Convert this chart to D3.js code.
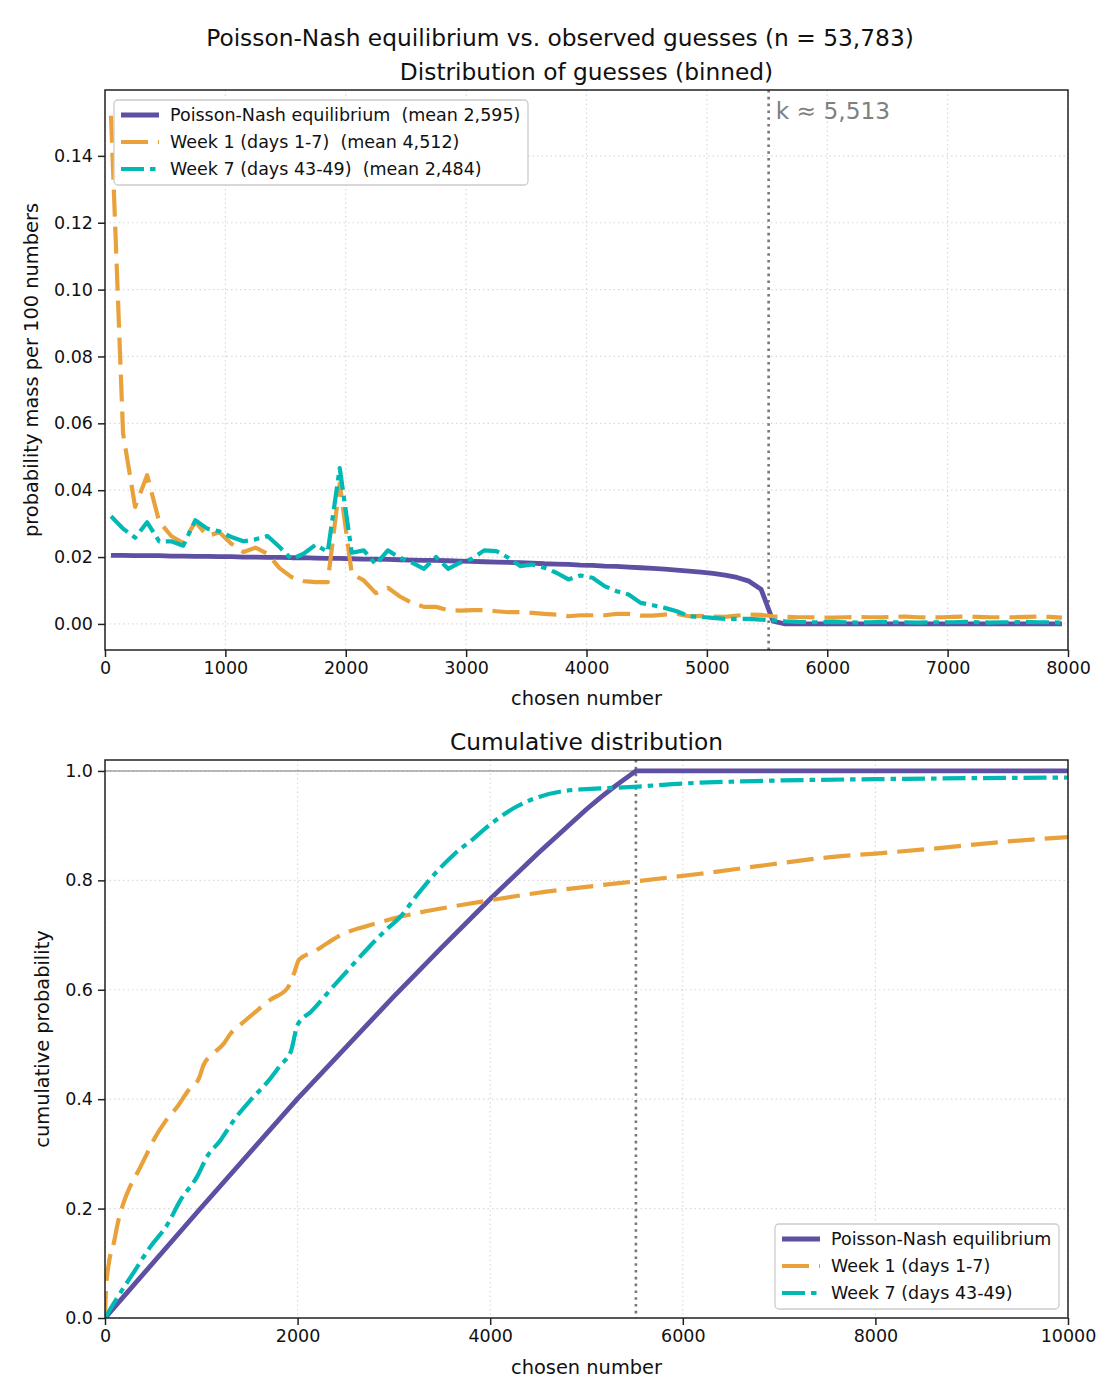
<!DOCTYPE html>
<html><head><meta charset="utf-8">
<script src="https://cdn.jsdelivr.net/npm/d3@7"></script>
<style>body{margin:0;background:#fff}svg{font-family:"DejaVu Sans",sans-serif}text{white-space:pre}</style>
</head><body>
<svg id="chart" width="1120" height="1400"></svg>
<script>
// ---------- DATA ----------
const binStart = 50, binWidth = 100, binCount = 80;
const seriesNames = ["Poisson-Nash equilibrium", "Week 1 (days 1-7)", "Week 7 (days 43-49)"];
const seriesMeans = ["2,595", "4,512", "2,484"];
const kValue = 5513;

const equilibriumBinned = [
0.0205,0.0205,0.0204,0.0204,0.0204,0.0203,0.0203,0.0202,0.0202,0.0201,
0.0201,0.0200,0.0200,0.0199,0.0199,0.0198,0.0198,0.0197,0.0196,0.0196,
0.0195,0.0194,0.0194,0.0193,0.0192,0.0191,0.0190,0.0190,0.0189,0.0188,
0.0187,0.0186,0.0185,0.0184,0.0183,0.0182,0.0180,0.0179,0.0178,0.0176,
0.0175,0.0173,0.0172,0.0170,0.0168,0.0166,0.0164,0.0161,0.0158,0.0155,
0.0151,0.0146,0.0139,0.0128,0.0104,0.0008,0,0,0,0,
0,0,0,0,0,0,0,0,0,0,
0,0,0,0,0,0,0,0,0,0];
const week1Binned = [
0.152,0.057,0.035,0.0445,0.0306,0.0263,0.0242,0.0306,0.0263,0.0274,
0.0240,0.0215,0.0228,0.0210,0.0167,0.0140,0.0128,0.0125,0.0125,0.0420,
0.0150,0.0130,0.0092,0.0108,0.0082,0.0063,0.0051,0.0051,0.0041,0.0040,
0.0041,0.0041,0.0038,0.0035,0.0035,0.0033,0.0030,0.0028,0.0023,0.0026,
0.0026,0.0026,0.0030,0.0030,0.0025,0.0025,0.0028,0.0030,0.0023,0.0024,
0.0022,0.0021,0.0025,0.0028,0.0027,0.0023,0.0021,0.0020,0.0020,0.0019,
0.0019,0.0020,0.0021,0.0020,0.0020,0.0021,0.0022,0.0020,0.0019,0.0020,
0.0021,0.0022,0.0021,0.0020,0.0020,0.0020,0.0021,0.0022,0.0021,0.0019];
const week7Binned = [
0.0322,0.0285,0.0258,0.0304,0.0247,0.0247,0.0234,0.0310,0.0285,0.0277,
0.0260,0.0247,0.0253,0.0263,0.0230,0.0194,0.0210,0.0237,0.0215,0.0466,
0.0213,0.0220,0.0178,0.0220,0.0198,0.0183,0.0165,0.0200,0.0165,0.0183,
0.0195,0.0220,0.0218,0.0198,0.0173,0.0178,0.0168,0.0153,0.0133,0.0145,
0.0138,0.0113,0.0098,0.0088,0.0063,0.0056,0.0048,0.0038,0.0023,0.0021,
0.0018,0.0015,0.0015,0.0015,0.0013,0.0011,0.0008,0.0006,0.0005,0.0005,
0.0006,0.0005,0.0004,0.0005,0.0006,0.0005,0.0005,0.0004,0.0005,0.0005,
0.0005,0.0006,0.0005,0.0004,0.0005,0.0005,0.0006,0.0005,0.0005,0.0004];

// cumulative curves (x, cumulative probability)
const cdfEqX = [0,1000,2000,3000,3500,4000,4500,4800,5000,5150,5250,5350,5450,5513,10000];
const cdfEqY = [0,0.202,0.401,0.588,0.678,0.766,0.850,0.898,0.930,0.952,0.966,0.979,0.992,1.0,1.0];
const cdfW1X = [0,10,40,90,140,190,260,350,435,520,625,750,870,975,1025,1130,1235,1305,1445,1585,1720,1895,1965,2015,2175,2315,2450,2730,3010,3290,3635,4015,4450,5140,5500,6180,6870,7560,8000,8600,9300,10000];
const cdfW1Y = [0,0.05,0.10,0.136,0.179,0.209,0.24,0.27,0.30,0.33,0.359,0.386,0.417,0.438,0.463,0.484,0.502,0.52,0.542,0.563,0.582,0.603,0.631,0.655,0.67,0.686,0.70,0.717,0.731,0.742,0.753,0.764,0.776,0.791,0.798,0.812,0.828,0.843,0.849,0.858,0.870,0.879];
const cdfW7X = [0,120,300,470,645,785,955,1060,1200,1340,1515,1690,1825,1930,2000,2140,2385,2590,2730,2940,3065,3235,3410,3615,3825,4035,4275,4515,4795,5140,5490,6000,6870,8000,10000];
const cdfW7Y = [0,0.035,0.084,0.13,0.17,0.216,0.258,0.295,0.325,0.362,0.399,0.432,0.463,0.487,0.536,0.56,0.609,0.649,0.676,0.713,0.733,0.772,0.809,0.846,0.876,0.907,0.935,0.953,0.964,0.968,0.971,0.977,0.982,0.985,0.988];

const topXTicks = [0,1000,2000,3000,4000,5000,6000,7000,8000];
const topYTicks = [0,0.02,0.04,0.06,0.08,0.10,0.12,0.14];
const botXTicks = [0,2000,4000,6000,8000,10000];
const botYTicks = [0,0.2,0.4,0.6,0.8,1.0];

// ---------- STYLE ----------
const colors = ["#5e4fa2", "#e9a23b", "#00b8b4"];
const widths = [4.8, 4.2, 4.2];
const dashes = [null, "27,10", "23,6,5.5,6"];
const cdfCurves = [d3.curveLinear, d3.curveMonotoneX, d3.curveMonotoneX];

const svg = d3.select("#chart");
const bins = d3.range(binCount).map(i => binStart + i * binWidth);

function panel(box, xDom, yDom, xTicks, yTicks, yFmt, title) {
  const x = d3.scaleLinear().domain(xDom).range([box.l, box.r]);
  const y = d3.scaleLinear().domain(yDom).range([box.b, box.t]);
  const g = svg.append("g");
  const id = "clip" + Math.round(box.t);
  svg.append("clipPath").attr("id", id).append("rect")
    .attr("x", box.l).attr("y", box.t).attr("width", box.r - box.l).attr("height", box.b - box.t);
  g.append("g").selectAll("line").data(xTicks).join("line")
    .attr("x1", d => x(d)).attr("x2", d => x(d)).attr("y1", box.t).attr("y2", box.b)
    .attr("stroke", "#d9d9d9").attr("stroke-width", 1.2).attr("stroke-dasharray", "1.5,3");
  g.append("g").selectAll("line").data(yTicks).join("line")
    .attr("y1", d => y(d)).attr("y2", d => y(d)).attr("x1", box.l).attr("x2", box.r)
    .attr("stroke", "#d9d9d9").attr("stroke-width", 1.2).attr("stroke-dasharray", "1.5,3");
  const ax = g.append("g").attr("transform", `translate(0,${box.b})`)
    .call(d3.axisBottom(x).tickValues(xTicks).tickFormat(d3.format("d")).tickSize(7).tickPadding(5));
  const ay = g.append("g").attr("transform", `translate(${box.l},0)`)
    .call(d3.axisLeft(y).tickValues(yTicks).tickFormat(d3.format(yFmt)).tickSize(7).tickPadding(5));
  [ax, ay].forEach(a => {
    a.select(".domain").remove();
    a.selectAll("line").attr("stroke", "#222").attr("stroke-width", 1.5);
    a.selectAll("text").attr("font-size", 17.5).attr("fill", "#111").attr("font-family", "DejaVu Sans");
  });
  svg.append("text").attr("x", (box.l + box.r) / 2).attr("y", box.t - 10)
    .attr("text-anchor", "middle").attr("font-size", 23.3).attr("fill", "#111").text(title);
  return {x, y, g, clip: id};
}

function frame(box) {
  svg.append("rect").attr("x", box.l).attr("y", box.t).attr("width", box.r - box.l).attr("height", box.b - box.t)
    .attr("fill", "none").attr("stroke", "#222").attr("stroke-width", 1.5);
}

function legend(x0, y0, w, h, labels) {
  const lg = svg.append("g");
  lg.append("rect").attr("x", x0).attr("y", y0).attr("width", w).attr("height", h).attr("rx", 4)
    .attr("fill", "white").attr("fill-opacity", 0.85).attr("stroke", "#cccccc").attr("stroke-width", 1.3);
  labels.forEach((t, i) => {
    const yy = y0 + 15 + i * 27;
    lg.append("line").attr("x1", x0 + 7).attr("x2", x0 + 45).attr("y1", yy).attr("y2", yy)
      .attr("stroke", colors[i]).attr("stroke-width", widths[i]).attr("stroke-dasharray", dashes[i]);
    lg.append("text").attr("x", x0 + 56).attr("y", yy + 6).attr("font-size", 17.5).attr("fill", "#111")
      .attr("xml:space", "preserve").text(t);
  });
}

svg.append("text").attr("x", 560).attr("y", 46).attr("text-anchor", "middle")
  .attr("font-size", 23.3).attr("fill", "#111")
  .text("Poisson-Nash equilibrium vs. observed guesses (n = 53,783)");

// ---------- TOP PANEL ----------
const boxA = {l: 105, r: 1068, t: 90, b: 650};
const A = panel(boxA, [0, 8000], [-0.0078, 0.1597], topXTicks, topYTicks, ".2f", "Distribution of guesses (binned)");
A.g.append("line").attr("x1", A.x(kValue)).attr("x2", A.x(kValue)).attr("y1", boxA.t).attr("y2", boxA.b)
  .attr("stroke", "#777").attr("stroke-width", 2.6).attr("stroke-dasharray", "2.6,4.2");
const binnedSeries = [equilibriumBinned, week1Binned, week7Binned];
binnedSeries.forEach((vals, i) => {
  const line = d3.line().x((d, j) => A.x(bins[j])).y(d => A.y(d));
  A.g.append("path").datum(vals).attr("d", line).attr("clip-path", `url(#${A.clip})`)
    .attr("fill", "none").attr("stroke", colors[i]).attr("stroke-width", widths[i])
    .attr("stroke-dasharray", dashes[i]).attr("stroke-linejoin", "round");
});
svg.append("text").attr("x", A.x(kValue) + 7).attr("y", 119).attr("font-size", 23.3).attr("fill", "#808080")
  .text("k \u2248 5,513");
frame(boxA);
svg.append("text").attr("x", (boxA.l + boxA.r) / 2).attr("y", 705).attr("text-anchor", "middle")
  .attr("font-size", 19.4).attr("fill", "#111").text("chosen number");
svg.append("text").attr("transform", `translate(38,${(boxA.t + boxA.b) / 2}) rotate(-90)`).attr("text-anchor", "middle")
  .attr("font-size", 19.4).attr("fill", "#111").text("probability mass per 100 numbers");
legend(114, 100, 414, 85, seriesNames.map((n, i) => `${n}  (mean ${seriesMeans[i]})`));

// ---------- BOTTOM PANEL ----------
const boxB = {l: 105, r: 1068, t: 760, b: 1318};
const B = panel(boxB, [0, 10000], [0, 1.02], botXTicks, botYTicks, ".1f", "Cumulative distribution");
B.g.append("line").attr("x1", boxB.l).attr("x2", boxB.r).attr("y1", B.y(1)).attr("y2", B.y(1))
  .attr("stroke", "#777").attr("stroke-width", 1.1);
B.g.append("line").attr("x1", B.x(kValue)).attr("x2", B.x(kValue)).attr("y1", boxB.t).attr("y2", boxB.b)
  .attr("stroke", "#777").attr("stroke-width", 2.6).attr("stroke-dasharray", "2.6,4.2");
const cdfSeries = [[cdfEqX, cdfEqY], [cdfW1X, cdfW1Y], [cdfW7X, cdfW7Y]];
cdfSeries.forEach(([xs, ys], i) => {
  const line = d3.line().x((d, j) => B.x(xs[j])).y(d => B.y(d)).curve(cdfCurves[i]);
  B.g.append("path").datum(ys).attr("d", line).attr("clip-path", `url(#${B.clip})`)
    .attr("fill", "none").attr("stroke", colors[i]).attr("stroke-width", widths[i])
    .attr("stroke-dasharray", dashes[i]).attr("stroke-linejoin", "round");
});
frame(boxB);
svg.append("text").attr("x", (boxB.l + boxB.r) / 2).attr("y", 1374).attr("text-anchor", "middle")
  .attr("font-size", 19.4).attr("fill", "#111").text("chosen number");
svg.append("text").attr("transform", `translate(49,${(boxB.t + boxB.b) / 2}) rotate(-90)`).attr("text-anchor", "middle")
  .attr("font-size", 19.4).attr("fill", "#111").text("cumulative probability");
legend(775, 1224, 284, 85, seriesNames);
</script>
</body></html>
